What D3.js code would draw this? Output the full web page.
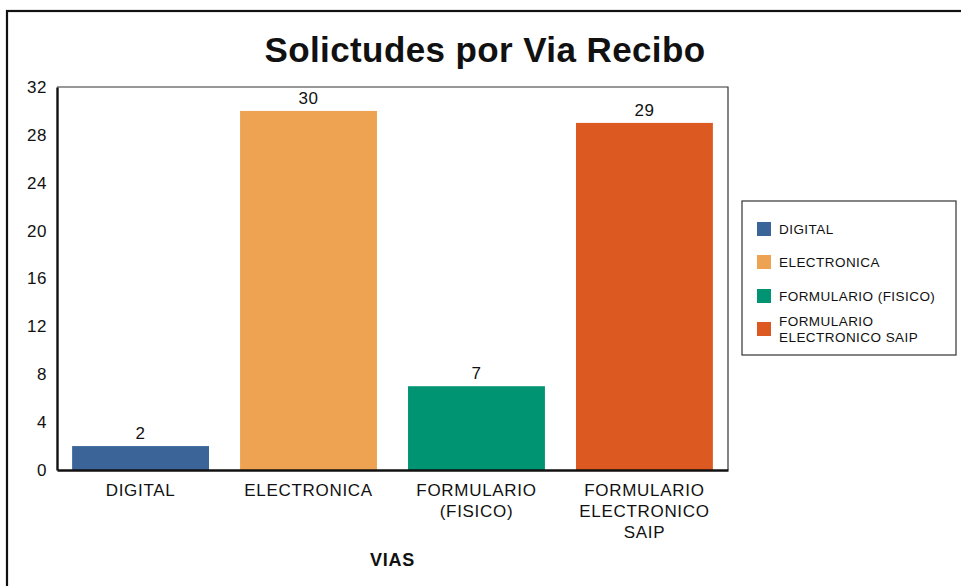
<!DOCTYPE html>
<html>
<head>
<meta charset="utf-8">
<script src="https://cdn.jsdelivr.net/npm/d3@7"></script>
<style>
  body { margin: 0; background: #fff; }
  svg text { font-family: "Liberation Sans", Arial, sans-serif; fill: #111; }
</style>
</head>
<body>
<div id="chart"></div>
<script>

const categories = ["DIGITAL", "ELECTRONICA", "FORMULARIO (FISICO)", "FORMULARIO ELECTRONICO SAIP"]
const values = [2, 30, 7, 29]
const axisLines = [["DIGITAL"], ["ELECTRONICA"], ["FORMULARIO", "(FISICO)"], ["FORMULARIO", "ELECTRONICO", "SAIP"]]
const legendLines = [["DIGITAL"], ["ELECTRONICA"], ["FORMULARIO (FISICO)"], ["FORMULARIO", "ELECTRONICO SAIP"]]
const colours = ["#3b6598", "#eea352", "#009472", "#dc5a21"]
const yTicks = [0, 4, 8, 12, 16, 20, 24, 28, 32]

const width = 961, height = 586
const margin = { top: 87, right: 233, bottom: 116, left: 57 }

const svg = d3.select("#chart").append("svg")
    .attr("width", width)
    .attr("height", height)

// outer frame
svg.append("rect")
    .attr("x", 7).attr("y", 11)
    .attr("width", 970).attr("height", 600)
    .attr("fill", "none")
    .attr("stroke", "#111")
    .attr("stroke-width", 2.2)

svg.append("text")
    .attr("x", 485).attr("y", 62)
    .attr("text-anchor", "middle")
    .style("font-size", "35px")
    .style("font-weight", "bold")
    .style("letter-spacing", "0.4px")
    .text("Solictudes por Via Recibo")

const x = d3.scaleBand()
    .domain(categories)
    .range([margin.left, width - margin.right])
    .paddingInner(0.185)
    .paddingOuter(0.09)

const y = d3.scaleLinear()
    .domain([0, 32])
    .range([height - margin.bottom, margin.top])

// plot frame (top / right)
svg.append("path")
    .attr("d", `M${margin.left},${margin.top}H${width - margin.right}V${height - margin.bottom}`)
    .attr("fill", "none")
    .attr("stroke", "#333")
    .attr("stroke-width", 1.2)

svg.selectAll(".bar")
    .data(values)
    .join("rect")
    .attr("class", "bar")
    .attr("x", (d, i) => x(categories[i]))
    .attr("width", x.bandwidth())
    .attr("y", d => y(d))
    .attr("height", d => y(0) - y(d))
    .attr("fill", (d, i) => colours[i])

svg.selectAll(".val")
    .data(values)
    .join("text")
    .attr("class", "val")
    .attr("x", (d, i) => x(categories[i]) + x.bandwidth() / 2)
    .attr("y", d => y(d) - 7)
    .attr("text-anchor", "middle")
    .style("font-size", "17px")
    .style("letter-spacing", "0.5px")
    .text(d => d)

const yAxis = svg.append("g")
    .attr("transform", `translate(${margin.left},0)`)
    .call(d3.axisLeft(y).tickValues(yTicks).tickSize(0).tickPadding(10))

yAxis.select(".domain").attr("stroke", "#111").attr("stroke-width", 2.4)
yAxis.selectAll("text")
    .style("font-size", "17px")
    .style("letter-spacing", "0.5px")
    .attr("fill", "#111")

const xAxis = svg.append("g")
    .attr("transform", `translate(0,${height - margin.bottom})`)
    .call(d3.axisBottom(x).tickSize(0).tickFormat(""))

xAxis.select(".domain").attr("stroke", "#111").attr("stroke-width", 2.4)

xAxis.selectAll(".tick").each(function(d, i) {

    const t = d3.select(this).append("text")
        .attr("text-anchor", "middle")
        .attr("y", 26)
        .style("font-size", "17px")
        .style("letter-spacing", "0.7px")

    axisLines[i].forEach((line, j) => {
        t.append("tspan").attr("x", 0).attr("dy", j === 0 ? 0 : 21).text(line)
    })

})

svg.append("text")
    .attr("x", (margin.left + width - margin.right) / 2)
    .attr("y", 566)
    .attr("text-anchor", "middle")
    .style("font-size", "18px")
    .style("font-weight", "bold")
    .style("letter-spacing", "0.8px")
    .text("VIAS")

// legend
const legend = svg.append("g").attr("transform", "translate(742,201)")

legend.append("rect")
    .attr("width", 214).attr("height", 154)
    .attr("fill", "#fff")
    .attr("stroke", "#333")
    .attr("stroke-width", 1.2)

const rowY = [28, 61, 95, 128]

categories.forEach((c, i) => {

    const row = legend.append("g").attr("transform", `translate(0,${rowY[i]})`)

    row.append("rect")
        .attr("x", 15).attr("y", -7)
        .attr("width", 14).attr("height", 14)
        .attr("fill", colours[i])

    const t = row.append("text")
        .attr("x", 37)
        .style("font-size", "13.5px")
        .style("letter-spacing", "0.45px")

    const lines = legendLines[i]
    const start = -(lines.length - 1) * 16 / 2 + 4.5
    lines.forEach((line, j) => {
        t.append("tspan").attr("x", 37).attr("y", start + j * 16).text(line)
    })

})

</script>
</body>
</html>
